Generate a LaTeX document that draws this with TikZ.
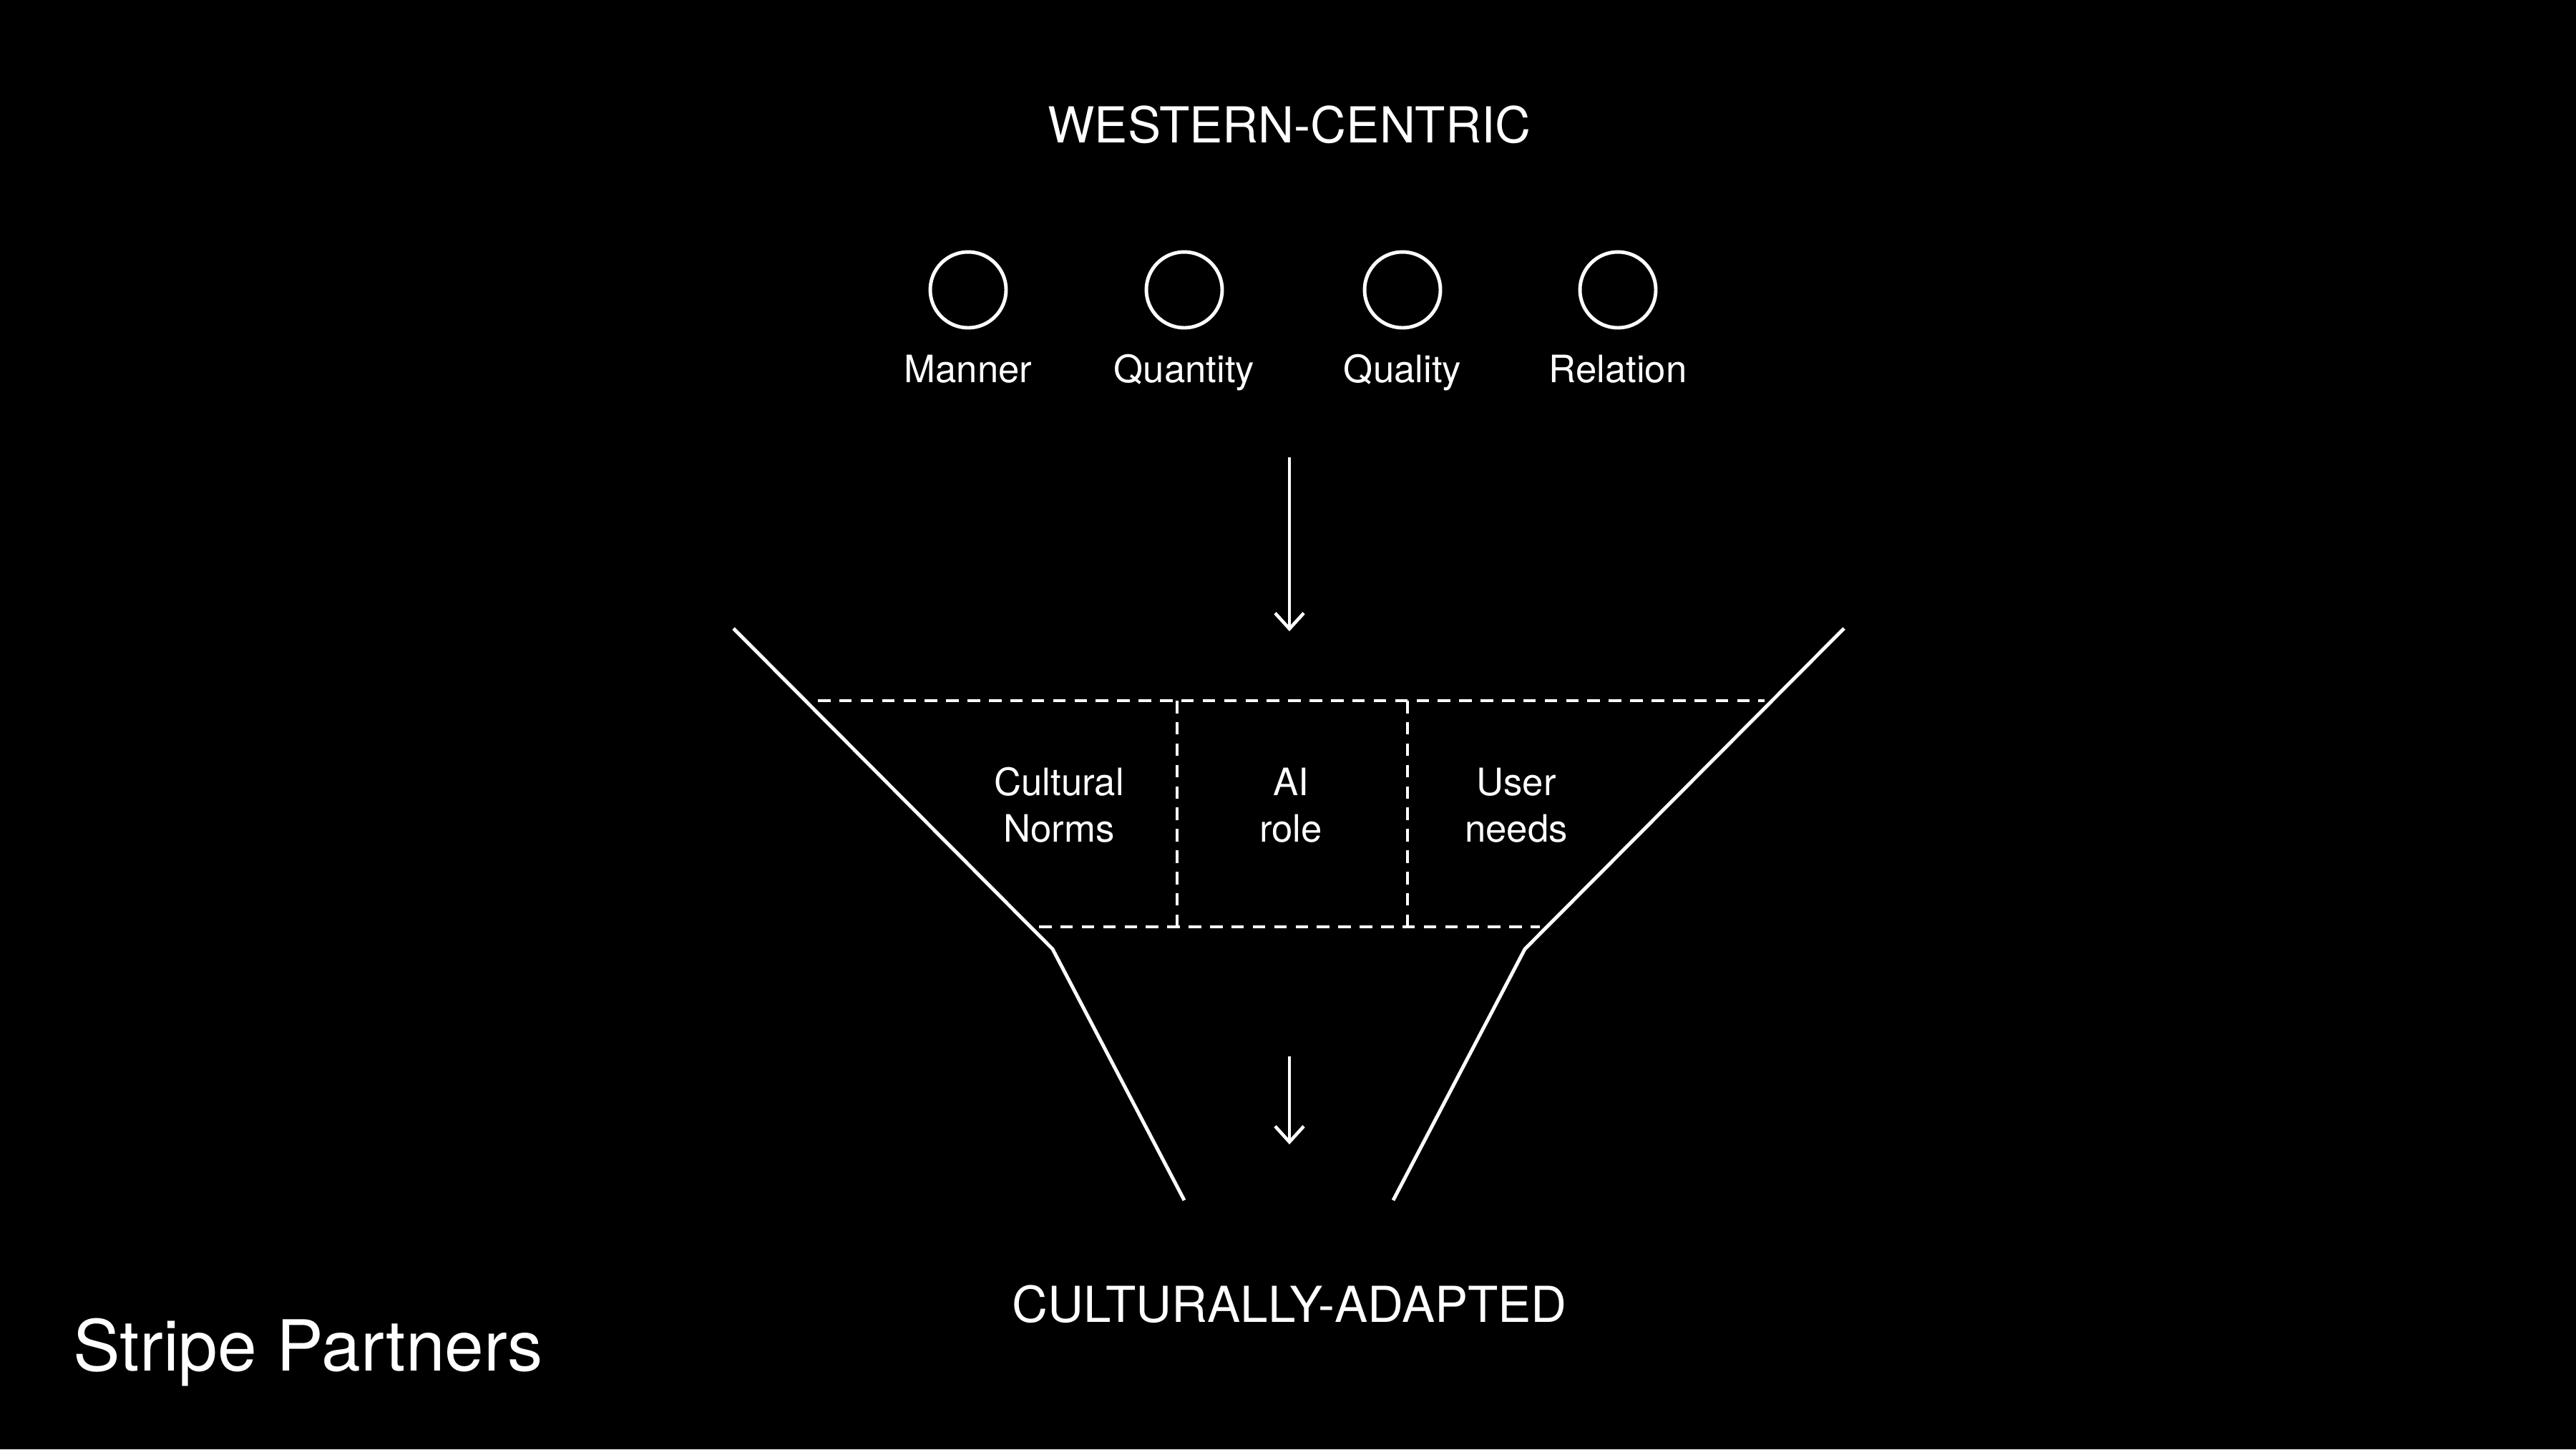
\documentclass[tikz,border=0pt]{standalone}
\usepackage{fontspec}
\setmainfont{TeX Gyre Heros}
\usetikzlibrary{arrows.meta}

\begin{document}
\begin{tikzpicture}[y=-1cm,
  ring/.style={draw=white, line width=1.4pt, circle, minimum size=1.06cm, inner sep=0pt},
  rim/.style={draw=white, line width=1.4pt},
  divider/.style={draw=white, line width=1pt, dash pattern=on 5pt off 3.5pt},
  flow/.style={draw=white, line width=1.3pt, -{Straight Barb[length=2.2mm,width=4mm]}},
  heading/.style={text=white, inner sep=0pt, anchor=base, font=\fontsize{19.7}{23}\selectfont},
  lbl/.style={text=white, inner sep=0pt, anchor=base, font=\fontsize{15}{18}\selectfont},
  cell/.style={text=white, inner sep=0pt, align=center, font=\fontsize{15}{18.5}\selectfont}]

  % the black slide
  \fill[black] (0,0) rectangle (36,20.25);

  % the top heading
  \node[heading] (west) at (18.02,1.99) {WESTERN-CENTRIC};

  % the four maxims (circles with their names)
  \node[ring] (c1) at (13.53,4.05) {};
  \node[ring] (c2) at (16.55,4.05) {};
  \node[ring] (c3) at (19.60,4.05) {};
  \node[ring] (c4) at (22.61,4.05) {};
  \node[lbl] (l1) at (13.53,5.34) {Manner};
  \node[lbl] (l2) at (16.55,5.34) {Quantity};
  \node[lbl] (l3) at (19.60,5.34) {Quality};
  \node[lbl] (l4) at (22.61,5.34) {Relation};

  % the points of the funnel
  \coordinate (ftl) at (10.25,8.78);
  \coordinate (fml) at (14.71,13.26);
  \coordinate (fbl) at (16.55,16.77);
  \coordinate (ftr) at (25.77,8.78);
  \coordinate (fmr) at (21.31,13.26);
  \coordinate (fbr) at (19.47,16.77);

  % draw the funnel
  \draw[rim] (ftl) -- (fml) -- (fbl);
  \draw[rim] (ftr) -- (fmr) -- (fbr);

  % the dashed grid inside it
  \draw[divider] (11.43,9.79) -- (24.66,9.79);
  \draw[divider] (14.52,12.95) -- (21.52,12.95);
  \draw[divider] (16.45,9.79) -- (16.45,12.95);
  \draw[divider] (19.67,9.79) -- (19.67,12.95);

  % the texts in the grid
  \node[cell] (norms) at (14.80,11.25) {Cultural\\Norms};
  \node[cell] (role) at (18.04,11.25) {AI\\role};
  \node[cell] (needs) at (21.19,11.25) {User\\needs};

  % the arrows
  \coordinate (a1) at (18.02,6.39);
  \coordinate (b1) at (18.02,8.82);
  \coordinate (a2) at (18.02,14.76);
  \coordinate (b2) at (18.02,15.99);
  \draw[flow] (a1) -- (b1);
  \draw[flow] (a2) -- (b2);

  % the bottom heading and the brand
  \node[heading] (adapted) at (18.02,18.47) {CULTURALLY-ADAPTED};
  \node[text=white, inner sep=0pt, anchor=base west, font=\fontsize{28}{32}\selectfont] (brand) at (1.02,19.15) {Stripe Partners};
\end{tikzpicture}
\end{document}
